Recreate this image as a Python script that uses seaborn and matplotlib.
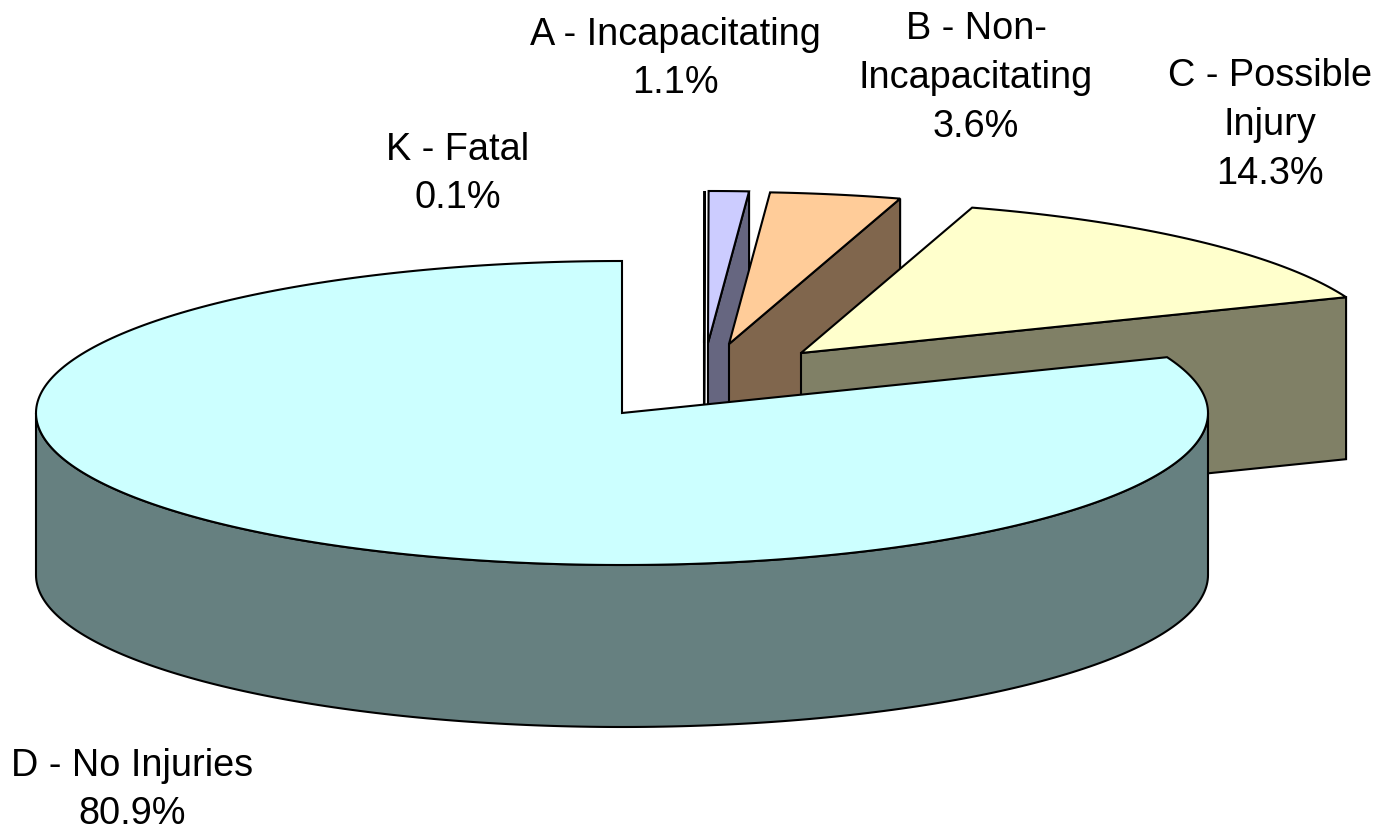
import numpy as np
import matplotlib
matplotlib.use('Agg')
import matplotlib.pyplot as plt
import seaborn as sns

# crash severity shares, in pie order (clockwise from the top)
categories = ['K - Fatal', 'A - Incapacitating', 'B - Non-\nIncapacitating',
              'C - Possible\nInjury', 'D - No Injuries']
shares = [0.1, 1.1, 3.6, 14.3, 80.9]
top_colors = ['#993366', '#CCCCFF', '#FFCC99', '#FFFFCC', '#CCFFFF']

sns.set_theme(style='white')
plt.rcParams['font.family'] = ['Liberation Sans', 'DejaVu Sans']

# pie geometry, in pixels of the output
center = np.array([622.0, 414.0])
rx, ry = 586.0, 152.0
depth = 162.0
first_angle = -0.3
offsets = [(82, -70), (86, -70), (107, -69), (179, -60), (0, 0)]
label_pos = [(458, 174), (675, 59), (976, 78), (1270, 125), (132, 790)]

palette = sns.color_palette(top_colors)

fig = plt.figure(figsize=(13.79, 8.29), dpi=100)
ax = fig.add_axes([0, 0, 1, 1])
ax.set_xlim(0, 1379)
ax.set_ylim(829, 0)
ax.axis('off')


def rim(apex, angles):
    # points on the ellipse, angles are degrees clockwise from the top
    a = np.radians(angles)
    return np.column_stack([apex[0] + rx * np.sin(a), apex[1] - ry * np.cos(a)])


edges = dict(edgecolor='black', linewidth=1.5, joinstyle='miter')
down = np.array([0, depth])

angle = first_angle
for i, (share, color, off) in enumerate(zip(shares, palette, offsets)):
    start = angle
    end = angle + share * 3.6
    angle = end
    # the pie closes at the top, whatever the rotation
    if i == len(shares) - 1:
        end = 360
    # a sliver this thin renders as one line
    if share < 0.5:
        start = end
    apex = center + np.array(off)
    side = tuple(c * 0.5 for c in color)

    # cut face, only the slices pulled out of the pie show it
    if off != (0, 0):
        tip = rim(apex, [end])[0]
        face = np.array([apex, tip, tip + down, apex + down])
        ax.fill(face[:, 0], face[:, 1], facecolor=side, **edges)

    # outer wall, the part of the rim that faces the viewer
    lo, hi = max(start, 90), min(end, 270)
    if hi > lo:
        arc = rim(apex, np.linspace(lo, hi, 200))
        wall = np.vstack([arc, arc[::-1] + down])
        ax.fill(wall[:, 0], wall[:, 1], facecolor=side, **edges)

    # top of the slice
    arc = rim(apex, np.linspace(start, end, 300))
    top = np.vstack([apex, arc])
    ax.fill(top[:, 0], top[:, 1], facecolor=color, **edges)

for name, share, (x, y) in zip(categories, shares, label_pos):
    ax.text(x, y, f'{name}\n{share:.1f}%', ha='center', va='center',
            fontsize=27.3, color='black', linespacing=1.45)

fig.savefig('out.png', dpi=100, facecolor='white')
